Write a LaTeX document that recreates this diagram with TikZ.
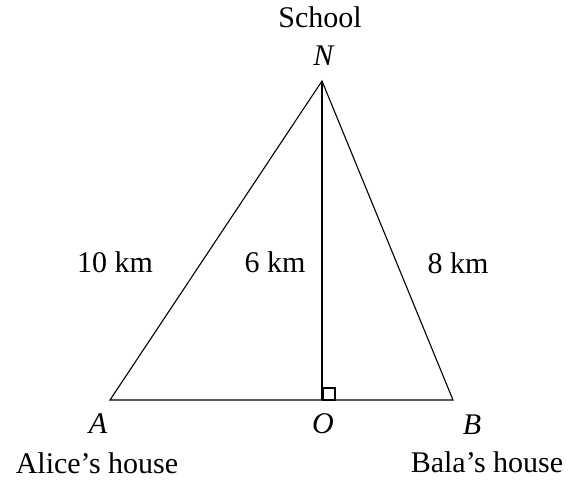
\documentclass[tikz,border=0pt]{standalone}
\usepackage{fontspec}
\setmainfont{Liberation Serif}
\begin{document}
\begin{tikzpicture}[x=1pt,y=-1pt,
  lbl/.style={anchor=base,inner sep=0pt,font=\fontsize{30}{36}\selectfont},
  edge/.style={line width=1.1pt,line join=miter}]
\useasboundingbox (0,0) rectangle (568,481);
\coordinate (N) at (322,81);
\coordinate (A) at (110,400);
\coordinate (B) at (453,400);
\coordinate (O) at (322,400);
\draw[edge] (A) -- (N) -- (B) -- cycle;
\draw[edge] (N) -- (O);
\draw[edge] ([shift={(1,0)}]O) rectangle ([shift={(13,-12)}]O);
\node[lbl] (school) at (320,28) {School};
\node[lbl] (nl) at (324,66) {\textit{N}};
\node[lbl] (ten) at (115,273) {10 km};
\node[lbl] (six) at (275,273) {6 km};
\node[lbl] (eight) at (458,274) {8 km};
\node[lbl] (al) at (98,433) {\textit{A}};
\node[lbl] (ol) at (323,433) {\textit{O}};
\node[lbl] (bl) at (472,434) {\textit{B}};
\node[lbl] (alice) at (97,473) {Alice’s house};
\node[lbl] (bala) at (487,472) {Bala’s house};
\end{tikzpicture}
\end{document}
